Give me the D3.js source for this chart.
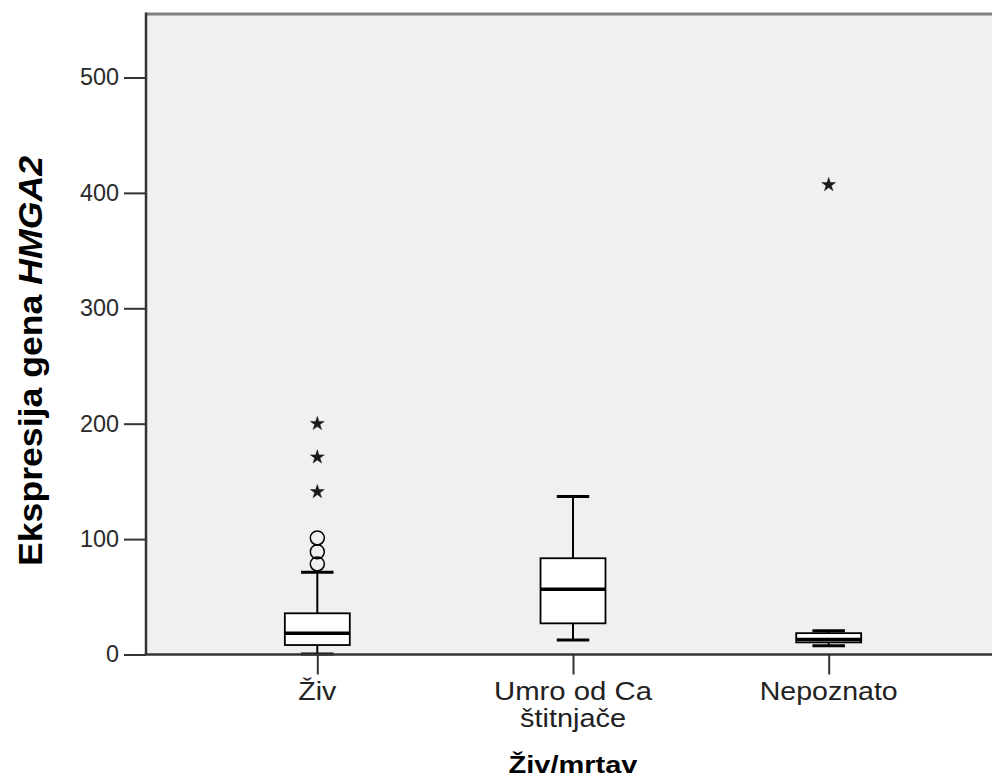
<!DOCTYPE html>
<html>
<head>
<meta charset="utf-8">
<script src="https://cdn.jsdelivr.net/npm/d3@7"></script>
<style>
  html, body { margin: 0; padding: 0; background: #ffffff; overflow: hidden; }
  svg { display: block; }
</style>
</head>
<body>
<svg id="chart" width="992" height="780"></svg>
<script>
// ---- data ----
const categories = ["Živ", "Umro od Ca štitnjače", "Nepoznato"];
const categoryLabelLines = [["Živ"], ["Umro od Ca", "štitnjače"], ["Nepoznato"]];
const q1 = [8.2, 27, 10.5];
const median = [18.4, 56.5, 13];
const q3 = [35.7, 83.4, 18.5];
const whiskerLow = [0.5, 12.6, 7.5];
const whiskerHigh = [71.3, 136.9, 20.5];
const outlierCategory = ["Živ", "Živ", "Živ"];
const outlierValue = [101, 89, 78.5];
const extremeCategory = ["Živ", "Živ", "Živ", "Nepoznato"];
const extremeValue = [200, 171, 141, 407];
const yTicks = [0, 100, 200, 300, 400, 500];
const yTitle = ["Ekspresija gena ", "HMGA2"];
const xTitle = "Živ/mrtav";

// ---- layout ----
const svg = d3.select("#chart");
const plotLeft = 146, plotTop = 14, plotBottom = 654.5, plotRight = 1000;

const x = d3.scalePoint().domain(categories).range([plotLeft, plotRight]).padding(0.67);
const y = d3.scaleLinear().domain([0, 555]).range([plotBottom, plotTop]);
const boxW = x.step() * 0.254;
const capW = boxW * 0.5;

// plot background
svg.append("rect")
  .attr("x", plotLeft).attr("y", plotTop)
  .attr("width", 992 - plotLeft).attr("height", plotBottom - plotTop)
  .attr("fill", "#f0f0f0");

// top frame line
svg.append("line")
  .attr("x1", plotLeft).attr("x2", 992).attr("y1", plotTop).attr("y2", plotTop)
  .attr("stroke", "#808080").attr("stroke-width", 3);

// boxes
const boxes = categories.map((c, i) => ({
  c, q1: q1[i], med: median[i], q3: q3[i], lo: whiskerLow[i], hi: whiskerHigh[i]
}));
const g = svg.append("g");
boxes.forEach(b => {
  const cx = x(b.c);
  g.append("line").attr("x1", cx).attr("x2", cx).attr("y1", y(b.q3)).attr("y2", y(b.hi))
    .attr("stroke", "#000").attr("stroke-width", 2);
  g.append("line").attr("x1", cx).attr("x2", cx).attr("y1", y(b.q1)).attr("y2", y(b.lo))
    .attr("stroke", "#000").attr("stroke-width", 2);
  [b.hi, b.lo].forEach(v => {
    g.append("line").attr("x1", cx - capW / 2).attr("x2", cx + capW / 2)
      .attr("y1", y(v)).attr("y2", y(v))
      .attr("stroke", "#000").attr("stroke-width", 3);
  });
  g.append("rect").attr("x", cx - boxW / 2).attr("y", y(b.q3))
    .attr("width", boxW).attr("height", y(b.q1) - y(b.q3))
    .attr("fill", "#ffffff").attr("stroke", "#000").attr("stroke-width", 1.8);
  g.append("line").attr("x1", cx - boxW / 2).attr("x2", cx + boxW / 2)
    .attr("y1", y(b.med)).attr("y2", y(b.med))
    .attr("stroke", "#000").attr("stroke-width", 3.5);
});

// outliers (circles)
outlierValue.forEach((v, i) => {
  g.append("circle").attr("cx", x(outlierCategory[i])).attr("cy", y(v)).attr("r", 7)
    .attr("fill", "none").attr("stroke", "#000").attr("stroke-width", 1.5);
});
// extremes (stars)
const star = d3.symbol().type(d3.symbolStar).size(60);
extremeValue.forEach((v, i) => {
  g.append("path").attr("d", star())
    .attr("transform", `translate(${x(extremeCategory[i])},${y(v)})`)
    .attr("fill", "#1a1a1a").attr("stroke", "#1a1a1a").attr("stroke-width", 0.5);
});

// y axis
const yAxis = d3.axisLeft(y).tickValues(yTicks).tickSize(22).tickPadding(5).tickFormat(d3.format("d"));
const ya = svg.append("g").attr("transform", `translate(${plotLeft},0)`).call(yAxis);
ya.select(".domain").remove();
ya.selectAll(".tick line").attr("stroke", "#333").attr("stroke-width", 2);
ya.selectAll(".tick text")
  .attr("font-family", "Liberation Sans, Arial, sans-serif")
  .attr("font-size", 23).attr("fill", "#2a2a2a")
  .attr("textLength", d => String(d).length * 13)
  .attr("lengthAdjust", "spacingAndGlyphs");
svg.append("line").attr("x1", plotLeft).attr("x2", plotLeft).attr("y1", plotTop - 1.5).attr("y2", plotBottom)
  .attr("stroke", "#333").attr("stroke-width", 2.5);

// x axis
const xAxis = d3.axisBottom(x).tickSize(20).tickFormat("");
const xa = svg.append("g").attr("transform", `translate(0,${plotBottom})`).call(xAxis);
xa.select(".domain").remove();
xa.selectAll(".tick line").attr("stroke", "#333").attr("stroke-width", 2);
svg.append("line").attr("x1", plotLeft - 1.25).attr("x2", 992).attr("y1", plotBottom).attr("y2", plotBottom)
  .attr("stroke", "#333").attr("stroke-width", 2.5);

// category labels
const labelWidths = {"Živ": 38, "Umro od Ca": 158, "štitnjače": 106, "Nepoznato": 138};
categories.forEach((c, i) => {
  categoryLabelLines[i].forEach((line, j) => {
    svg.append("text")
      .attr("x", x(c)).attr("y", 700 + j * 27)
      .attr("text-anchor", "middle")
      .attr("font-family", "Liberation Sans Narrow, Arial Narrow, Liberation Sans, sans-serif")
      .attr("font-size", 25).attr("fill", "#222")
      .attr("textLength", labelWidths[line])
      .attr("lengthAdjust", "spacingAndGlyphs")
      .text(line);
  });
});

// x title
svg.append("text")
  .attr("x", (plotLeft + plotRight) / 2).attr("y", 773)
  .attr("text-anchor", "middle")
  .attr("font-family", "Liberation Sans, Arial, sans-serif")
  .attr("font-weight", "bold").attr("font-size", 24).attr("fill", "#000")
  .attr("textLength", 129).attr("lengthAdjust", "spacingAndGlyphs")
  .text(xTitle);

// y title
const yt = svg.append("text")
  .attr("transform", "translate(42,361) rotate(-90)")
  .attr("text-anchor", "middle")
  .attr("font-family", "Liberation Sans, Arial, sans-serif")
  .attr("font-weight", "bold").attr("font-size", 34).attr("fill", "#000")
  .attr("textLength", 410).attr("lengthAdjust", "spacingAndGlyphs");
yt.append("tspan").text(yTitle[0]);
yt.append("tspan").attr("font-style", "italic").text(yTitle[1]);
</script>
</body>
</html>
